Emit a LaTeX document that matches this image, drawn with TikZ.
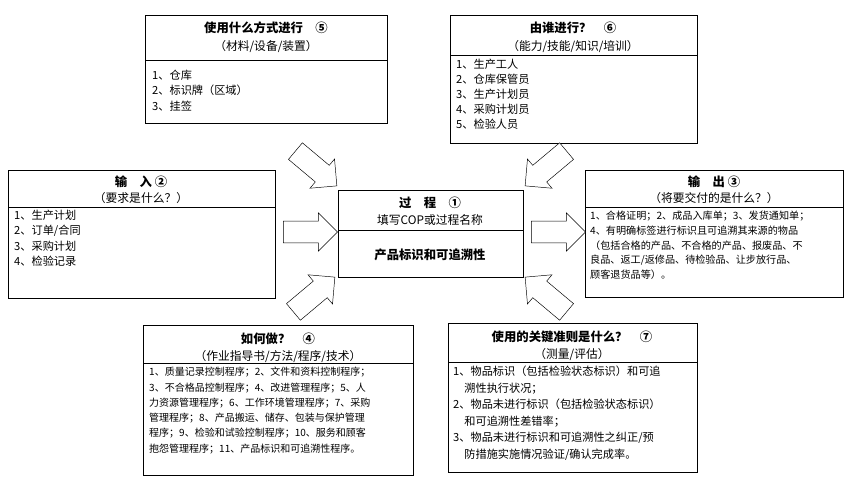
\documentclass[tikz,border=0pt]{standalone}
\usepackage{fontspec}
\setmainfont{Noto Sans CJK SC}
\usepackage{tikz}
\usetikzlibrary{shapes.arrows}
\tikzset{
  ttl/.style={font=\fontsize{10.5}{12}\selectfont\bfseries, anchor=north},
  sub/.style={font=\fontsize{10}{12}\selectfont, anchor=north},
  body/.style={font=\fontsize{9.5}{13}\selectfont, anchor=north west, align=left, inner sep=0pt},
  blk/.style={single arrow, draw=black, fill=white, minimum height=46pt,
    single arrow head extend=7pt, inner xsep=0pt, inner ysep=9pt}
}
\begin{document}
\begin{tikzpicture}[x=0.85pt,y=-0.85pt]
  \useasboundingbox (0,0) rectangle (850,500);
  % boxes
  \draw (145,15) rectangle (387,123); \draw (145,60) -- (387,60);
  \draw (450,15) rectangle (697,143); \draw (450,55) -- (697,55);
  \draw (8,170) rectangle (275,298); \draw (8,207) -- (275,207);
  \draw (338,190) rectangle (523,277); \draw (338,230) -- (523,230);
  \draw (585,170) rectangle (843,297); \draw (585,207) -- (843,207);
  \draw (143,325) rectangle (413,475); \draw (143,363) -- (413,363);
  \draw (448,323) rectangle (697,472); \draw (448,362) -- (697,362);
  % titles
  \node[ttl] (t5) at (266,18) {使用什么方式进行\quad ⑤};
  \node[sub] (s5) at (266,36) {（材料/设备/装置）};
  \node[ttl] (t6) at (573,18) {由谁进行？\quad ⑥};
  \node[sub] (s6) at (573,36) {（能力/技能/知识/培训）};
  \node[ttl] (t2) at (141,172) {输\quad 入 ②};
  \node[sub] (s2) at (141,188) {（要求是什么？）};
  \node[ttl] (t1) at (430,193) {过\quad 程\quad ①};
  \node[sub] (s1) at (430,210) {填写COP或过程名称};
  \node[ttl] (p1) at (430,245) {产品标识和可追溯性};
  \node[ttl] (t3) at (714,172) {输\quad 出 ③};
  \node[sub] (s3) at (714,188) {（将要交付的是什么？）};
  \node[ttl] (t4) at (278,329) {如何做？\quad ④};
  \node[sub] (s4) at (278,346) {（作业指导书/方法/程序/技术）};
  \node[ttl] (t7) at (572,327) {使用的关键准则是什么？\quad ⑦};
  \node[sub] (s7) at (572,344) {（测量/评估）};
  % contents
  \node[body] (b5) at (152,70) {1、仓库\\2、标识牌（区域）\\3、挂签};
  \node[body, font=\fontsize{9.5}{12.8}\selectfont] (b6) at (456,59) {1、生产工人\\2、仓库保管员\\3、生产计划员\\4、采购计划员\\5、检验人员};
  \node[body] (b2) at (14,210) {1、生产计划\\2、订单/合同\\3、采购计划\\4、检验记录};
  \node[body, font=\fontsize{8.6}{12.5}\selectfont] (b3) at (590,211) {1、合格证明；2、成品入库单；3、发货通知单；\\4、有明确标签进行标识且可追溯其来源的物品\\（包括合格的产品、不合格的产品、报废品、不\\良品、返工/返修品、待检验品、让步放行品、\\顾客退货品等）。};
  \node[body, font=\fontsize{8.5}{13}\selectfont] (b4) at (149,367) {1、质量记录控制程序；2、文件和资料控制程序；\\3、不合格品控制程序；4、改进管理程序；5、人\\力资源管理程序；6、工作环境管理程序；7、采购\\管理程序；8、产品搬运、储存、包装与保护管理\\程序；9、检验和试验控制程序；10、服务和顾客\\抱怨管理程序；11、产品标识和可追溯性程序。};
  \node[body, font=\fontsize{9.5}{14}\selectfont] (b7) at (453,366) {1、物品标识（包括检验状态标识）和可追\\\quad 溯性执行状况；\\2、物品未进行标识（包括检验状态标识）\\\quad 和可追溯性差错率；\\3、物品未进行标识和可追溯性之纠正/预\\\quad 防措施实施情况验证/确认完成率。};
  % block arrows
  \node[blk, rotate=-40] (a5) at (312,165) {};
  \node[blk, rotate=-140] (a6) at (550,165) {};
  \node[blk] (a2) at (305,232) {};
  \node[blk] (a3) at (553,232) {};
  \node[blk, rotate=40] (a4) at (310,298) {};
  \node[blk, rotate=140] (a7) at (550,298) {};
\end{tikzpicture}
\end{document}
